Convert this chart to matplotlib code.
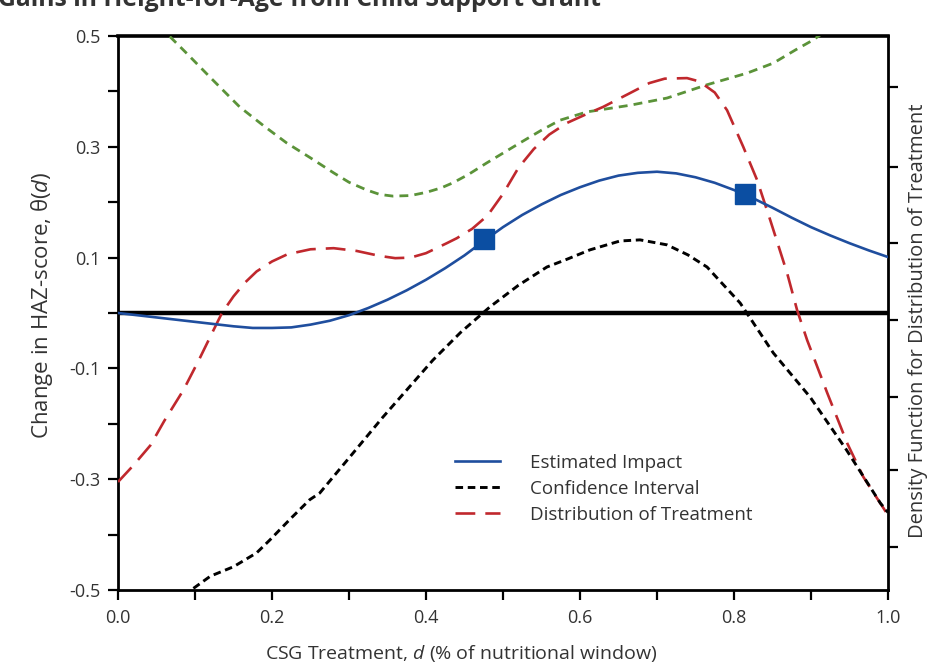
import matplotlib
matplotlib.use("Agg")
import matplotlib.pyplot as plt
from matplotlib.ticker import FixedLocator, NullFormatter

plt.rcParams['font.family'] = ['Open Sans', 'DejaVu Sans']
plt.rcParams['axes.unicode_minus'] = False
plt.rcParams['mathtext.fontset'] = 'custom'
plt.rcParams['mathtext.it'] = 'Open Sans:italic'
plt.rcParams['mathtext.rm'] = 'Open Sans'

# ---- data ----
x_impact = [0, 0.025, 0.05, 0.075, 0.1, 0.125, 0.15, 0.175, 0.2, 0.225, 0.25, 0.275,
            0.3, 0.325, 0.35, 0.375, 0.4, 0.425, 0.45, 0.475, 0.5, 0.525, 0.55, 0.575,
            0.6, 0.625, 0.65, 0.675, 0.7, 0.725, 0.75, 0.775, 0.8, 0.825, 0.85, 0.875,
            0.9, 0.925, 0.95, 0.975, 1.0]
y_impact = [0.0, -0.004, -0.008, -0.012, -0.016, -0.02, -0.024, -0.027, -0.027, -0.026,
            -0.021, -0.014, -0.004, 0.009, 0.024, 0.041, 0.06, 0.081, 0.104, 0.13, 0.155,
            0.177, 0.196, 0.213, 0.227, 0.239, 0.248, 0.253, 0.255, 0.252, 0.245, 0.235,
            0.222, 0.207, 0.19, 0.172, 0.155, 0.14, 0.126, 0.113, 0.101]

x_markers = [0.475, 0.814]
y_markers = [0.133, 0.215]

x_ci_low = [0.085, 0.12, 0.15, 0.18, 0.197, 0.225, 0.249, 0.262, 0.301, 0.344, 0.409,
            0.445, 0.483, 0.52, 0.557, 0.583, 0.613, 0.652, 0.678, 0.713, 0.74, 0.765,
            0.808, 0.851, 0.899, 0.946, 0.99, 1.0]
y_ci_low = [-0.51, -0.475, -0.458, -0.433, -0.41, -0.37, -0.337, -0.325, -0.26, -0.188,
            -0.085, -0.035, 0.011, 0.05, 0.083, 0.097, 0.114, 0.13, 0.132, 0.123, 0.105,
            0.083, 0.018, -0.072, -0.152, -0.247, -0.343, -0.36]

x_ci_up = [0.055, 0.063, 0.089, 0.12, 0.158, 0.19, 0.219, 0.25, 0.28, 0.3, 0.323, 0.34,
           0.357, 0.38, 0.401, 0.42, 0.435, 0.455, 0.479, 0.522, 0.55, 0.574, 0.609,
           0.665, 0.713, 0.765, 0.817, 0.851, 0.88, 0.903, 0.93]
y_ci_up = [0.52, 0.505, 0.469, 0.425, 0.372, 0.337, 0.307, 0.28, 0.253, 0.236, 0.222,
           0.214, 0.211, 0.212, 0.218, 0.226, 0.235, 0.25, 0.271, 0.307, 0.33, 0.348,
           0.363, 0.375, 0.388, 0.412, 0.433, 0.451, 0.475, 0.493, 0.52]

x_density = [0, 0.02, 0.042, 0.06, 0.085, 0.105, 0.124, 0.135, 0.15, 0.165, 0.18, 0.2,
             0.22, 0.25, 0.28, 0.31, 0.34, 0.36, 0.38, 0.40, 0.427, 0.44, 0.46, 0.48,
             0.50, 0.52, 0.54, 0.56, 0.583, 0.61, 0.63, 0.665, 0.69, 0.71, 0.739, 0.755,
             0.775, 0.791, 0.812, 0.83, 0.847, 0.869, 0.882, 0.895, 0.921, 0.947, 0.968,
             0.994, 1.0]
y_density = [-0.305, -0.275, -0.239, -0.195, -0.139, -0.085, -0.031, 0.0, 0.03, 0.055,
             0.075, 0.093, 0.106, 0.115, 0.117, 0.112, 0.103, 0.099, 0.1, 0.108, 0.126,
             0.135, 0.152, 0.176, 0.215, 0.262, 0.296, 0.322, 0.343, 0.36, 0.372, 0.397,
             0.415, 0.423, 0.424, 0.418, 0.398, 0.366, 0.30, 0.24, 0.168, 0.072, 0.005,
             -0.049, -0.144, -0.235, -0.296, -0.352, -0.365]

x_tick_labels = ["0.0", "0.2", "0.4", "0.6", "0.8", "1.0"]
y_tick_labels = ["-0.5", "-0.3", "-0.1", "0.1", "0.3", "0.5"]

title = "Gains in Height-for-Age from Child Support Grant"
text_col = '#333333'

fig = plt.figure(figsize=(9.35, 6.7), dpi=100)
ax = fig.add_axes([118/935, 1 - 590/670, 770/935, 554/670])

ax.axhline(0, color='black', lw=3.2, zorder=2)
ax.plot(x_ci_up, y_ci_up, color='#5b9339', lw=2.0, dashes=(3.2, 2.2), zorder=3)
ax.plot(x_density, y_density, color='#c0282d', lw=1.9, dashes=(7.5, 3.8),
        label='Distribution of Treatment', zorder=3)
ax.plot(x_ci_low, y_ci_low, color='black', lw=2.1, dashes=(2.6, 1.6),
        label='Confidence Interval', zorder=3)
ax.plot(x_impact, y_impact, color='#1f4e9e', lw=1.9, label='Estimated Impact', zorder=4)
ax.plot(x_markers, y_markers, ls='none', marker='s', ms=14, color='#0b4ea2', zorder=5)

ax.set_xlim(0, 1)
ax.set_ylim(-0.5, 0.5)
ax.set_xticks([0, 0.2, 0.4, 0.6, 0.8, 1.0])
ax.set_xticklabels(x_tick_labels)
ax.xaxis.set_minor_locator(FixedLocator([0.1, 0.3, 0.5, 0.7, 0.9]))
ax.set_yticks([-0.5, -0.3, -0.1, 0.1, 0.3, 0.5])
ax.set_yticklabels(y_tick_labels)
ax.yaxis.set_minor_locator(FixedLocator([-0.4, -0.2, 0.0, 0.2, 0.4]))
ax.tick_params(axis='both', which='both', direction='out', width=1.6, color='black',
               labelcolor=text_col, labelsize=13, length=7.5)
ax.tick_params(axis='y', which='major', pad=5)
ax.tick_params(axis='x', which='major', pad=6)
for s in ax.spines.values():
    s.set_linewidth(2.0)
    s.set_color('black')
ax.spines['top'].set_linewidth(2.6)

fig.text(42/935, 1 - 305/670, r'Change in HAZ-score, θ($\it{d}$)', fontsize=16,
         color=text_col, rotation=90, ha='center', va='center')
fig.text(461/935, 1 - 653/670, r'CSG Treatment, $\it{d}$ (% of nutritional window)',
         fontsize=14, color=text_col, ha='center', va='center')
fig.text(918/935, 1 - 321/670, 'Density Function for Distribution of Treatment',
         fontsize=14.5, color=text_col, rotation=90, ha='center', va='center')

ax2 = ax.twinx()
ax2.set_ylim(0, 554)
ax2.yaxis.set_major_locator(FixedLocator([43, 120, 193, 270, 347, 423, 503]))
ax2.yaxis.set_major_formatter(NullFormatter())
ax2.tick_params(axis='y', direction='out', length=7.5, width=1.6, color='black')
for s in ax2.spines.values():
    s.set_visible(False)

h, l = ax.get_legend_handles_labels()
order = [2, 1, 0]
leg = ax.legend([h[i] for i in order], [l[i] for i in order], loc='upper left',
                bbox_to_anchor=((455 - 118) / 770, 1 - (454 - 36) / 554), frameon=False,
                fontsize=13.5, handlelength=2.4, handletextpad=1.6, labelspacing=0.42,
                borderpad=0, borderaxespad=0)
for t in leg.get_texts():
    t.set_color(text_col)

fig.text(-0.002, 1 - 6/670, title, fontsize=17.8, weight='bold', color=text_col,
         ha='left', va='baseline')

fig.savefig('out.png', dpi=100, facecolor='white')
